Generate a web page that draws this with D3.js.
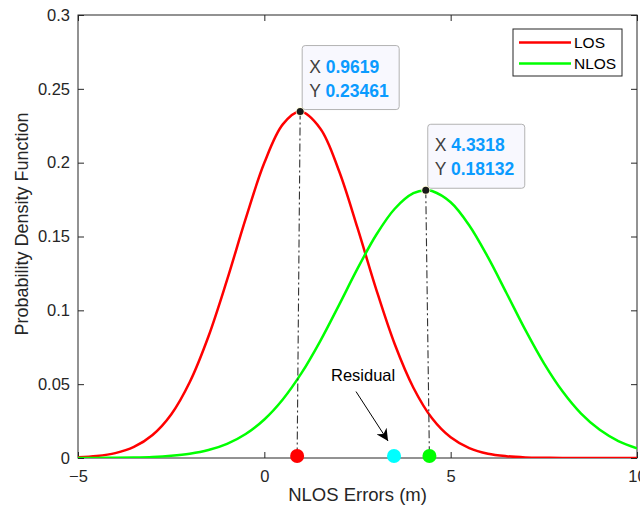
<!DOCTYPE html>
<html>
<head>
<meta charset="utf-8">
<script src="https://cdn.jsdelivr.net/npm/d3@7"></script>
<style>
  html, body { margin: 0; padding: 0; background: #fff; }
  svg { display: block; font-family: "Liberation Sans", Arial, sans-serif; }
</style>
</head>
<body>
<svg id="chart" width="640" height="512"></svg>
<script>
// Sampled density curves (x in metres, y = probability density)
const losX = [-5, -4.5, -4, -3.5, -3, -2.5, -2, -1.5, -1, -0.5, 0, 0.5, 0.9619, 1.5, 2, 2.5, 3, 3.5, 4, 4.5, 5, 5.5, 6, 6.5, 7, 7.5, 8, 8.5, 9, 9.5, 10];
const losY = [0.0005, 0.00135, 0.0033, 0.0075, 0.0156, 0.0295, 0.0515, 0.0823, 0.1206, 0.1621, 0.1999, 0.2261, 0.23461, 0.2232, 0.1947, 0.1558, 0.1144, 0.0770, 0.0476, 0.0269, 0.0140, 0.0067, 0.0029, 0.0012, 0.0004, 0.00014, 0.00004, 0.00001, 0, 0, 0];
const nlosX = [-5, -4.5, -4, -3.5, -3, -2.5, -2, -1.5, -1, -0.5, 0, 0.5, 1, 1.5, 2, 2.5, 3, 3.5, 4, 4.3318, 4.5, 5, 5.5, 6, 6.5, 7, 7.5, 8, 8.5, 9, 9.5, 10];
const nlosY = [0.00002, 0.00006, 0.00014, 0.00032, 0.0007, 0.0015, 0.0029, 0.0054, 0.0096, 0.0163, 0.0261, 0.0398, 0.0576, 0.0792, 0.1034, 0.1282, 0.1510, 0.1688, 0.1793, 0.18132, 0.1808, 0.1732, 0.1575, 0.1360, 0.1116, 0.0869, 0.0643, 0.0452, 0.0301, 0.0191, 0.0115, 0.0066];

const seriesNames = ["LOS", "NLOS"];
const seriesColors = ["#ff0000", "#00ff00"];

// Data tips at the curve peaks
const tipX = [0.9619, 4.3318];
const tipY = [0.23461, 0.18132];
const tipText = [["0.9619", "0.23461"], ["4.3318", "0.18132"]];

// Markers on the error axis: LOS estimate, residual, NLOS estimate
const markerX = [0.88, 3.48, 4.43];
const markerColors = ["#ff0000", "#00ffff", "#00ff00"];

// Residual annotation (arrow from label towards the residual marker)
const arrowFrom = [2.46, 0.045];
const arrowTo = [3.32, 0.0115];
const residualLabel = { text: "Residual", x: 2.65, y: 0.052 };

const xTicks = [-5, 0, 5, 10];
const yTicks = [0, 0.05, 0.1, 0.15, 0.2, 0.25, 0.3];
const xLabel = "NLOS Errors (m)";
const yLabel = "Probability Density Function";

const margin = { left: 78, top: 15, right: 3, bottom: 54 };
const W = 640, H = 512;
const iw = W - margin.left - margin.right;
const ih = H - margin.top - margin.bottom;

const svg = d3.select("#chart");
const defs = svg.append("defs");
defs.append("clipPath").attr("id", "plotClip")
  .append("rect").attr("x", 0).attr("y", -2).attr("width", iw).attr("height", ih + 2);
defs.append("marker").attr("id", "arrowHead")
  .attr("viewBox", "0 0 10 10").attr("refX", 10).attr("refY", 5)
  .attr("markerWidth", 15).attr("markerHeight", 12).attr("markerUnits", "userSpaceOnUse")
  .attr("orient", "auto")
  .append("path").attr("d", "M0,0 L10,5 L0,10 L3,5 Z").attr("fill", "#000");

const g = svg.append("g").attr("transform", `translate(${margin.left},${margin.top})`);

const x = d3.scaleLinear().domain([-5, 10]).range([0, iw]);
const y = d3.scaleLinear().domain([0, 0.3]).range([ih, 0]);

// Axes with inward ticks
const tickFont = "16.5px";
const xAxis = g.append("g").attr("transform", `translate(0,${ih})`)
  .call(d3.axisBottom(x).tickValues(xTicks).tickSizeInner(-6).tickSizeOuter(0).tickPadding(12).tickFormat(d3.format("d")));
const yAxis = g.append("g")
  .call(d3.axisLeft(y).tickValues(yTicks).tickSizeInner(-6).tickSizeOuter(0).tickPadding(8).tickFormat(d => d === 0 ? "0" : String(+d.toFixed(2))));
const xTop = g.append("g")
  .call(d3.axisTop(x).tickValues(xTicks).tickSizeInner(-6).tickSizeOuter(0).tickFormat(""));
const yRight = g.append("g").attr("transform", `translate(${iw},0)`)
  .call(d3.axisRight(y).tickValues(yTicks).tickSizeInner(-6).tickSizeOuter(0).tickFormat(""));
[xAxis, yAxis, xTop, yRight].forEach(a => {
  a.select(".domain").remove();
  a.selectAll("line").attr("stroke", "#262626");
  a.selectAll("text").attr("fill", "#262626").style("font-size", tickFont).style("font-family", "Liberation Sans, Arial, sans-serif");
});
xAxis.selectAll("text").attr("dy", "0.71em");

g.append("rect").attr("x", 0).attr("y", 0).attr("width", iw).attr("height", ih)
  .attr("fill", "none").attr("stroke", "#262626").attr("stroke-width", 1);

// Curves
const line = d3.line().x(d => x(d[0])).y(d => y(d[1])).curve(d3.curveCatmullRom.alpha(0.5));
const curves = [d3.zip(losX, losY), d3.zip(nlosX, nlosY)];
const plot = g.append("g").attr("clip-path", "url(#plotClip)");
plot.selectAll("path.curve").data(curves).join("path")
  .attr("class", "curve")
  .attr("d", line)
  .attr("fill", "none")
  .attr("stroke", (d, i) => seriesColors[i])
  .attr("stroke-width", 2.5);

// Dash-dot drop lines from peaks to markers
const dropIdx = [0, 2];
g.selectAll("line.drop").data(tipX).join("line")
  .attr("class", "drop")
  .attr("x1", d => x(d)).attr("y1", (d, i) => y(tipY[i]))
  .attr("x2", (d, i) => x(markerX[dropIdx[i]])).attr("y2", y(0))
  .attr("stroke", "#333333").attr("stroke-width", 1.1)
  .attr("stroke-dasharray", "8,3,2,3");

// Markers on the axis
g.selectAll("circle.marker").data(markerX).join("circle")
  .attr("class", "marker")
  .attr("cx", d => x(d)).attr("cy", y(0) - 2)
  .attr("r", 7)
  .attr("fill", (d, i) => markerColors[i]);

// Residual arrow + label
g.append("line")
  .attr("x1", x(arrowFrom[0])).attr("y1", y(arrowFrom[1]))
  .attr("x2", x(arrowTo[0])).attr("y2", y(arrowTo[1]))
  .attr("stroke", "#000").attr("stroke-width", 1)
  .attr("marker-end", "url(#arrowHead)");
g.append("text")
  .attr("x", x(residualLabel.x)).attr("y", y(residualLabel.y))
  .attr("text-anchor", "middle")
  .style("font-size", "16.5px").attr("fill", "#000")
  .text(residualLabel.text);

// Data tips
tipX.forEach((tx, i) => {
  const px = x(tx), py = y(tipY[i]);
  const bx = px + 2, by = py - 66, bw = 97, bh = 64;
  const tip = g.append("g");
  tip.append("rect").attr("x", bx).attr("y", by).attr("width", bw).attr("height", bh)
    .attr("rx", 3).attr("fill", "#f8f8fe").attr("stroke", "#b3b3b3").attr("stroke-width", 1);
  ["X", "Y"].forEach((lab, j) => {
    const t = tip.append("text").attr("x", bx + 7).attr("y", by + 27 + j * 24)
      .style("font-size", "17.5px");
    t.append("tspan").attr("fill", "#404040").text(lab + " ");
    t.append("tspan").attr("fill", "#0a9bff").attr("font-weight", "bold").text(tipText[i][j]);
  });
  g.append("circle").attr("cx", px).attr("cy", py).attr("r", 4.5).attr("fill", "#fffbd0").attr("opacity", 0.8);
  g.append("circle").attr("cx", px).attr("cy", py).attr("r", 3.5).attr("fill", "#1a1a1a");
});

// Legend
const leg = g.append("g").attr("transform", `translate(${513 - margin.left},${29 - margin.top})`);
leg.append("rect").attr("width", 109).attr("height", 47).attr("fill", "#fff").attr("stroke", "#262626").attr("stroke-width", 1);
seriesNames.forEach((name, i) => {
  const ly = 13.5 + i * 21;
  leg.append("line").attr("x1", 6).attr("x2", 58).attr("y1", ly).attr("y2", ly)
    .attr("stroke", seriesColors[i]).attr("stroke-width", 2.5);
  leg.append("text").attr("x", 61).attr("y", ly).attr("dy", "0.35em")
    .style("font-size", "15.5px").attr("fill", "#000").text(name);
});

// Axis titles
svg.append("text").attr("x", margin.left + x(2.5)).attr("y", 501)
  .attr("text-anchor", "middle").style("font-size", "18.5px").attr("fill", "#262626").text(xLabel);
svg.append("text").attr("transform", `translate(28,224) rotate(-90)`)
  .attr("text-anchor", "middle").style("font-size", "18px").attr("fill", "#262626").text(yLabel);
</script>
</body>
</html>
